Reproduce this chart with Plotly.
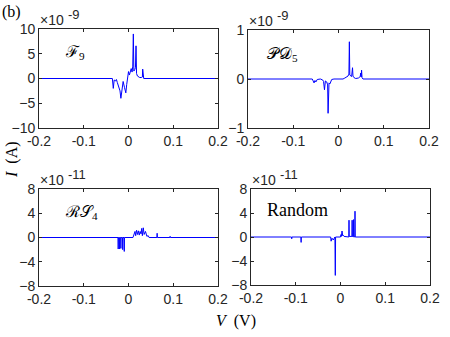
import plotly.graph_objects as go

# Data (current in units of the exponent shown above each panel)

V_F9 = [-0.2, -0.036, -0.034, -0.032, -0.029, -0.027, -0.025, -0.022, -0.019, -0.017, -0.015,
        -0.012, -0.009, -0.006, -0.004, -0.002, 0.0, 0.002, 0.004, 0.006, 0.008, 0.0095,
        0.0108, 0.012, 0.014, 0.0155, 0.0168, 0.018, 0.020, 0.022, 0.025, 0.029, 0.031,
        0.0317, 0.0325, 0.034, 0.2]
I_F9 = [0, 0, -2.0, -0.3, -0.5, -0.2, -0.8, -1.5, -2.5, -4.0, -2.0,
        -0.6, -1.8, -2.9, -1.2, 0.3, 1.4, 0.7, 1.2, 2.0, 1.3, 2.5,
        9.0, 1.5, 1.8, 2.2, 6.6, 1.0, 0.5, 0.3, 0.2, 0.2, 0.3,
        1.9, 0.2, 0, 0]

V_PD5 = [-0.2, -0.058, -0.056, -0.054, -0.052, -0.050, -0.047, -0.040, -0.035, -0.033,
         -0.031, -0.029, -0.026, -0.024, -0.023, -0.021, -0.019, -0.017, -0.015, -0.010,
         0.010, 0.014, 0.018, 0.021, 0.023, 0.024, 0.025, 0.027, 0.029, 0.031, 0.032,
         0.034, 0.038, 0.044, 0.048, 0.049, 0.050, 0.051, 0.052, 0.054, 0.2]
I_PD5 = [0, 0, -0.04, -0.08, -0.03, -0.06, -0.01, 0, -0.02, -0.05,
         -0.22, -0.04, -0.06, -0.12, -0.70, -0.08, -0.10, -0.04, -0.01, 0,
         0, 0.02, 0.04, 0.06, 0.1, 0.76, 0.08, 0.06, 0.05, 0.23, 0.06,
         0.03, 0.01, 0.02, 0.05, 0.12, 0.04, 0.18, 0.03, 0, 0]

V_RS4 = [-0.2, -0.0235, -0.023, -0.0225, -0.0205, -0.020, -0.0195, -0.0175, -0.017, -0.0165,
         -0.0135, -0.013, -0.0125, -0.010, -0.0095, -0.009, 0.010, 0.011, 0.013, 0.0145,
         0.016, 0.018, 0.020, 0.022, 0.024, 0.026, 0.028, 0.0295, 0.031, 0.033, 0.035,
         0.038, 0.041, 0.044, 0.046, 0.0635, 0.064, 0.0645, 0.0925, 0.093, 0.0935, 0.2]
I_RS4 = [0, 0, -1.9, 0, 0, -1.9, 0, 0, -1.8, 0,
         0, -2.0, 0, 0, -2.3, 0, 0, 0.3, 0.4, 1.0,
         0.3, 1.2, 0.5, 1.1, 0.4, 1.0, 0.6, 1.5, 0.3, 1.6, 0.5,
         1.0, 0.2, 0.3, 0, 0, 0.7, 0, 0, 0.2, 0, 0]

V_RND = [-0.2, -0.1095, -0.109, -0.1085, -0.0885, -0.088, -0.0875, -0.022, -0.021, -0.019,
         -0.018, -0.016, -0.0125, -0.0116, -0.011, 0.0, 0.001, 0.002, 0.0034, 0.005, 0.006,
         0.008, 0.0185, 0.019, 0.0195, 0.0255, 0.026, 0.0265, 0.0285, 0.029, 0.0295,
         0.0319, 0.0324, 0.0329, 0.2]
I_RND = [0, 0, -0.3, 0, 0, -0.9, 0, 0, -0.7, -0.2,
         -0.3, -0.5, 0, -6.4, 0, 0, 0.4, 0.1, 1.0, 0.2, 0.3,
         0.1, 0, 2.8, 0.1, 0.1, 2.8, 0.1, 0, 2.9, 0.1,
         0, 4.3, 0, 0]

X_TICKS = [-0.2, -0.1, 0, 0.1, 0.2]
X_LABELS = ["-0.2", "-0.1", "0", "0.1", "0.2"]
Y_TICKS_F9 = [-10, -5, 0, 5, 10]
Y_TICKS_PD5 = [-1, 0, 1]
Y_TICKS_11 = [-8, -4, 0, 4, 8]

panels = [
    # name, V, I, yticks, exponent, label
    ("F9", V_F9, I_F9, Y_TICKS_F9, "-9", "ℱ<sub>9</sub>"),
    ("PD5", V_PD5, I_PD5, Y_TICKS_PD5, "-9", "𝒫𝒟<sub>5</sub>"),
    ("RS4", V_RS4, I_RS4, Y_TICKS_11, "-11", "ℛ𝒮<sub>4</sub>"),
    ("Random", V_RND, I_RND, Y_TICKS_11, "-11", "Random"),
]

W, H = 450, 337
# plot boxes in pixels: left, right, top, bottom
boxes = [(39, 218, 29, 128), (248, 429, 30, 128), (39, 218, 189, 286), (251, 430, 189, 285)]
# panel label offsets from box corner (dx, dy) and font size
label_pos = [(24, 23, 16), (17, 25, 16), (24, 23, 16), (14, 21, 18)]

sans = "Liberation Sans, Arial, Helvetica, sans-serif"
serif = "Liberation Serif, Times New Roman, DejaVu Serif, serif"
axcol = "#262626"


def px(x, y):
    return x / W, 1 - y / H


fig = go.Figure()
layout = dict(width=W, height=H, margin=dict(l=0, r=0, t=0, b=0, pad=0),
              paper_bgcolor="white", plot_bgcolor="white", showlegend=False,
              font=dict(family=sans, size=14, color=axcol))
annotations = []

for k, (name, v, i, yt, ex, lab) in enumerate(panels):
    n = "" if k == 0 else str(k + 1)
    fig.add_trace(go.Scatter(x=v, y=i, mode="lines", name=name,
                             line=dict(color="#0000ff", width=1),
                             xaxis="x" + n, yaxis="y" + n))
    l, r, t, b = boxes[k]
    common = dict(showline=True, linecolor=axcol, linewidth=0.8, mirror="ticks",
                  ticks="inside", ticklen=3, tickcolor=axcol, tickwidth=0.8,
                  showgrid=False, zeroline=False, automargin=False,
                  tickfont=dict(family=sans, size=14, color=axcol))
    layout["xaxis" + n] = dict(common, domain=[l / W, r / W], range=[-0.2, 0.2],
                               tickvals=X_TICKS, ticktext=X_LABELS, anchor="y" + n)
    layout["yaxis" + n] = dict(common, domain=[1 - b / H, 1 - t / H],
                               range=[yt[0], yt[-1]], tickvals=yt, anchor="x" + n)
    # exponent label: "×10" plus raised power
    ax, ay = px(l - 1, t + 1)
    annotations.append(dict(x=ax, y=ay, xref="paper", yref="paper",
                            xanchor="left", yanchor="bottom", showarrow=False, text="×10",
                            font=dict(family=sans, size=14, color=axcol)))
    ax, ay = px(l + 27, t - 5)
    annotations.append(dict(x=ax, y=ay, xref="paper", yref="paper",
                            xanchor="left", yanchor="bottom", showarrow=False, text=ex,
                            font=dict(family=sans, size=13, color=axcol)))
    # panel label
    dx, dy, fs = label_pos[k]
    ax, ay = px(l + dx, t + dy)
    annotations.append(dict(x=ax, y=ay, xref="paper", yref="paper",
                            xanchor="left", yanchor="middle", showarrow=False, text=lab,
                            font=dict(family=serif, size=fs, color="black")))

ax, ay = px(0, 1)
annotations.append(dict(x=ax, y=ay, xref="paper", yref="paper", xanchor="left",
                        yanchor="top", showarrow=False, text="(b)",
                        font=dict(family=serif, size=16, color="black")))
ax, ay = px(12, 160)
annotations.append(dict(x=ax, y=ay, xref="paper", yref="paper",
                        xanchor="center", yanchor="middle", showarrow=False, textangle=-90,
                        text="<i>I</i>  (A)", font=dict(family=serif, size=16, color="black")))
ax, ay = px(236, 321)
annotations.append(dict(x=ax, y=ay, xref="paper", yref="paper",
                        xanchor="center", yanchor="middle", showarrow=False,
                        text="<i>V</i>  (V)", font=dict(family=serif, size=16, color="black")))

layout["annotations"] = annotations
fig.update_layout(**layout)

# page body has a default margin; drop it so the figure sits at the window corner
fig.write_html("out.html", config={"displayModeBar": False},
               post_script="document.body.style.margin='0';")
